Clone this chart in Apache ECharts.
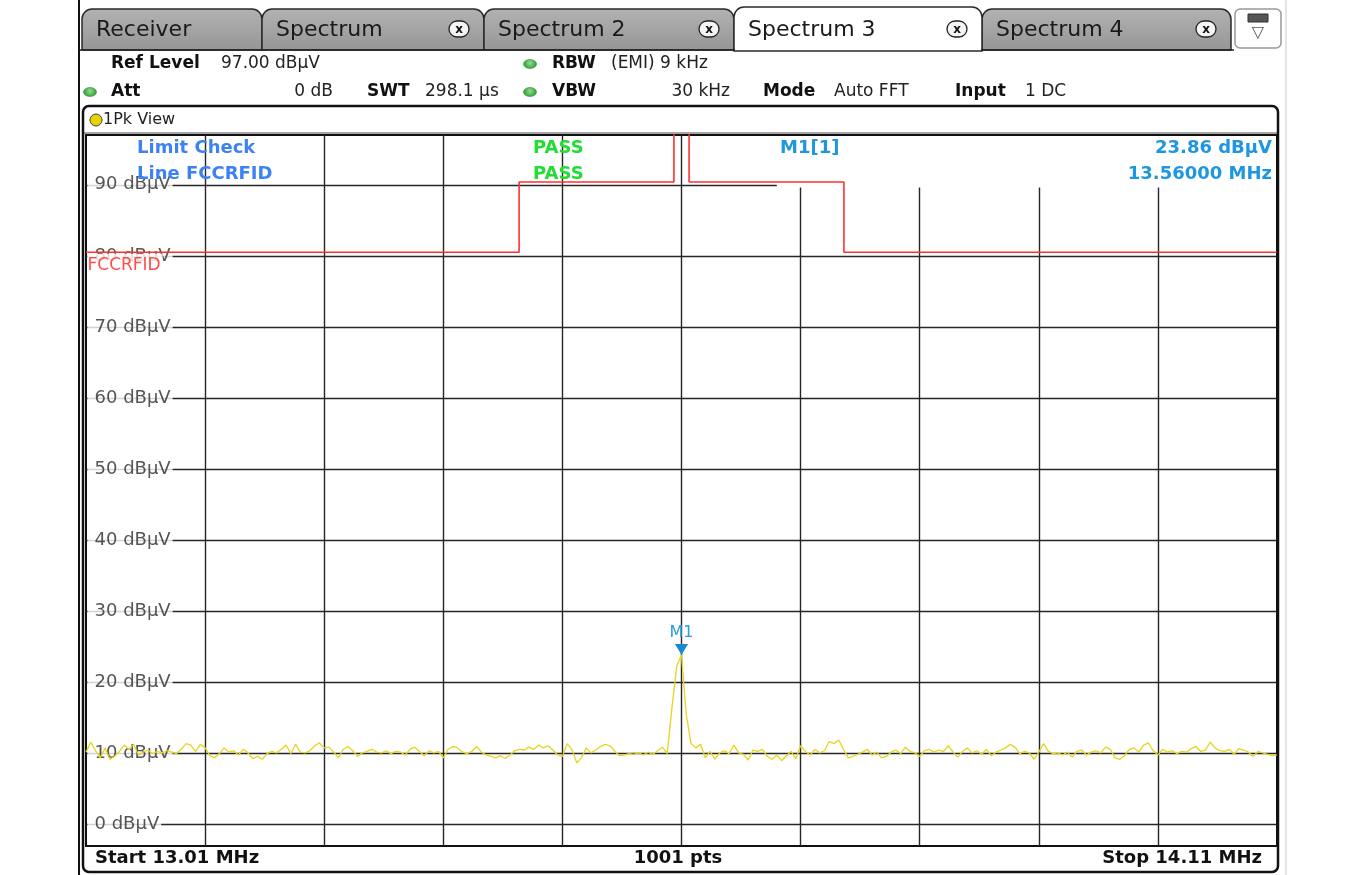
<!DOCTYPE html>
<html>
<head>
<meta charset="utf-8">
<script src="https://cdn.jsdelivr.net/npm/echarts@6/dist/echarts.min.js"></script>
<style>
  html, body { margin: 0; padding: 0; background: #fff; }
  #main { width: 1360px; height: 875px; }
</style>
</head>
<body>
<div id="main"></div>
<script>
// sweep settings
var sweepStart = 13.01;
var sweepStop = 14.11;
var levelMin = -3;
var levelMax = 97;

// grid ticks
var freqTicks = [13.12, 13.23, 13.34, 13.45, 13.56, 13.67, 13.78, 13.89, 14.00];
var levelTicks = [0, 10, 20, 30, 40, 50, 60, 70, 80, 90];

// FCCRFID limit line (dBuV)
var limitFreq = [13.01, 13.41, 13.41, 13.553, 13.553, 13.567, 13.567, 13.71, 13.71, 14.11];
var limitLevel = [80.5, 80.5, 90.4, 90.4, 124, 124, 90.4, 90.4, 80.5, 80.5];

// 1Pk trace (251 pts across the span)
var traceLevel = [
  10.2, 11.6, 10.4, 9.4, 10.8, 9.2, 9.6, 10.3, 11.2, 10.6, 11.3, 9.8, 10.2, 10.5, 10.0, 10.3, 10.1, 10.4, 10.2, 10.0, 10.6, 11.4, 11.2, 10.3, 11.3,
  10.8, 9.7, 9.4, 10.0, 10.8, 10.2, 10.4, 9.8, 10.6, 10.1, 9.3, 9.6, 9.2, 10.0, 10.3, 10.1, 10.6, 11.2, 10.0, 11.3, 10.2, 10.1, 10.4, 11.1, 11.5,
  10.8, 10.9, 10.2, 9.4, 10.6, 11.0, 10.4, 9.6, 10.1, 10.3, 10.6, 10.2, 10.1, 10.4, 10.0, 10.3, 10.2, 9.8, 10.6, 10.9, 10.3, 9.7, 10.4, 10.1, 10.3,
  9.4, 10.6, 11.0, 10.8, 10.2, 10.0, 10.3, 11.0, 10.2, 9.8, 9.6, 9.4, 9.7, 9.3, 9.8, 10.4, 10.6, 10.5, 10.9, 10.6, 11.2, 10.8, 11.1, 10.5, 9.8,
  9.6, 11.4, 10.6, 8.7, 9.4, 10.8, 10.1, 10.5, 11.0, 11.3, 11.1, 10.3, 9.7, 9.8, 10.0, 9.9, 10.1, 9.8, 10.2, 9.9, 10.4, 10.9, 10.0, 16.5, 22.3,
  23.86, 15.5, 11.4, 10.8, 11.3, 9.4, 10.3, 9.2, 10.1, 10.4, 10.0, 11.2, 10.1, 9.9, 9.1, 10.5, 10.3, 10.6, 9.6, 9.2, 9.8, 9.0, 9.7, 10.3, 9.3,
  11.1, 10.3, 9.8, 10.6, 10.1, 10.4, 11.7, 11.4, 11.9, 10.6, 9.4, 9.6, 9.9, 10.2, 10.6, 9.8, 10.2, 9.4, 9.6, 10.2, 10.5, 10.0, 10.9, 10.3, 10.1,
  9.6, 10.4, 10.6, 10.2, 10.5, 10.3, 11.1, 10.2, 9.5, 10.3, 10.8, 10.1, 10.4, 9.9, 10.6, 9.7, 10.2, 10.5, 10.8, 11.3, 10.9, 10.0, 10.3, 10.1, 9.2,
  10.2, 11.4, 10.3, 10.0, 10.1, 9.8, 10.2, 9.5, 10.3, 10.5, 9.8, 10.2, 10.4, 10.1, 10.9, 10.6, 9.4, 9.2, 9.7, 10.6, 10.8, 10.2, 11.2, 11.5, 10.4,
  9.8, 10.6, 10.2, 10.4, 10.0, 10.3, 10.2, 10.7, 11.0, 10.3, 10.5, 11.6, 10.8, 10.4, 10.3, 10.6, 9.9, 10.7, 10.5, 10.2, 9.6, 10.3, 10.1, 9.9, 9.7, 9.8
];

// marker M1
var markerFreq = 13.56;
var markerLevel = 23.86;

// area hidden behind the marker readout (top right)
var readoutFreq = 13.648;
var readoutLevel = 89.6;

var FONT = '"DejaVu Sans", Verdana, sans-serif';

var chart = echarts.init(document.getElementById('main'));

function pairs(xs, ys) {
  var out = [];
  for (var i = 0; i < xs.length; i++) out.push([xs[i], ys[i]]);
  return out;
}

// frequency of each trace point: linear sweep
var traceFreq = [];
for (var i = 0; i < traceLevel.length; i++) {
  traceFreq.push(+(sweepStart + i * (sweepStop - sweepStart) / (traceLevel.length - 1)).toFixed(5));
}

// grid lines as marklines
var gridLines = [];
levelTicks.forEach(function (v) {
  var end = v === 90 ? readoutFreq : sweepStop;
  gridLines.push([{ coord: [sweepStart, v] }, { coord: [end, v] }]);
});
freqTicks.forEach(function (f) {
  var top = f > readoutFreq ? readoutLevel : levelMax;
  gridLines.push([{ coord: [f, levelMin] }, { coord: [f, top] }]);
});

function txt(x, y, s, font, color, align, z) {
  return {
    type: 'text', x: x, y: y, z: z || 10, silent: true,
    style: { text: s, font: font, fill: color || '#111', textAlign: align || 'left', textVerticalAlign: 'middle' }
  };
}
function dot(x, y) {
  return {
    type: 'ellipse', z: 10, silent: true,
    shape: { cx: x, cy: y, rx: 6.5, ry: 4.5 },
    style: {
      fill: new echarts.graphic.RadialGradient(0.5, 0.4, 0.7, [
        { offset: 0, color: '#8fe08f' }, { offset: 1, color: '#2f9a2f' }
      ]),
      stroke: '#3a8a3a', lineWidth: 0.5
    }
  };
}
function tab(x, w, label, active, closable) {
  var els = [];
  els.push({
    type: 'rect', z: active ? 6 : 5, silent: true,
    shape: { x: x, y: active ? 7 : 9, width: w, height: active ? 44 : 41, r: [10, 10, 0, 0] },
    style: {
      fill: active ? '#ffffff' : new echarts.graphic.LinearGradient(0, 0, 0, 1, [
        { offset: 0, color: '#b2b2b2' }, { offset: 1, color: '#969696' }
      ]),
      stroke: '#2a2a2a', lineWidth: 1.5
    }
  });
  els.push(txt(x + 14, 30, label, '22px ' + FONT, '#1a1a1a', 'left', 8));
  if (closable) {
    var cx = x + w - 25;
    els.push({
      type: 'rect', z: 8, silent: true,
      shape: { x: cx - 10, y: 21, width: 20, height: 16, r: 8 },
      style: { fill: '#f4f4f4', stroke: '#222', lineWidth: 1.3 }
    });
    els.push(txt(cx, 29.5, 'x', 'bold 12px ' + FONT, '#111', 'center', 9));
  }
  return els;
}

var graphics = [];
// screenshot edges
graphics.push({ type: 'line', z: 1, silent: true, shape: { x1: 79, y1: 0, x2: 79, y2: 875 }, style: { stroke: '#111', lineWidth: 2 } });
graphics.push({ type: 'line', z: 1, silent: true, shape: { x1: 1286, y1: 0, x2: 1286, y2: 875 }, style: { stroke: '#c8c8c8', lineWidth: 1 } });
// tabs
graphics = graphics.concat(
  tab(82, 180, 'Receiver', false, false),
  tab(262, 222, 'Spectrum', false, true),
  tab(484, 250, 'Spectrum 2', false, true),
  tab(982, 249, 'Spectrum 4', false, true),
  tab(734, 248, 'Spectrum 3', true, true)
);
graphics.push({ type: 'line', z: 7, silent: true, shape: { x1: 79, y1: 50, x2: 735, y2: 50 }, style: { stroke: '#222', lineWidth: 1.5 } });
graphics.push({ type: 'line', z: 7, silent: true, shape: { x1: 981, y1: 50, x2: 1234, y2: 50 }, style: { stroke: '#222', lineWidth: 1.5 } });
graphics.push({
  type: 'rect', z: 5, silent: true, shape: { x: 1235, y: 9, width: 46, height: 39, r: 5 },
  style: { fill: '#fff', stroke: '#999', lineWidth: 1.5 }
});
graphics.push({ type: 'rect', z: 6, silent: true, shape: { x: 1248, y: 14, width: 20, height: 8 }, style: { fill: '#555', stroke: '#333' } });
graphics.push(txt(1258, 33, '\u25BD', '16px ' + FONT, '#555', 'center'));

// header settings
var hdB = 'bold 17px ' + FONT, hdN = '17px ' + FONT;
graphics.push(txt(111, 64, 'Ref Level', hdB));
graphics.push(txt(221, 64, '97.00 dB\u03BCV', hdN, '#222'));
graphics.push(dot(530, 64));
graphics.push(txt(552, 64, 'RBW', hdB));
graphics.push(txt(611, 64, '(EMI) 9 kHz', hdN, '#222'));
graphics.push(dot(90, 92));
graphics.push(txt(111, 92, 'Att', hdB));
graphics.push(txt(333, 92, '0 dB', hdN, '#222', 'right'));
graphics.push(txt(367, 92, 'SWT', hdB));
graphics.push(txt(425, 92, '298.1 \u03BCs', hdN, '#222'));
graphics.push(dot(530, 92));
graphics.push(txt(552, 92, 'VBW', hdB));
graphics.push(txt(730, 92, '30 kHz', hdN, '#222', 'right'));
graphics.push(txt(763, 92, 'Mode', hdB));
graphics.push(txt(834, 92, 'Auto FFT', hdN, '#222'));
graphics.push(txt(955, 92, 'Input', hdB));
graphics.push(txt(1025, 92, '1 DC', hdN, '#222'));

// window frame
graphics.push({
  type: 'rect', z: 20, silent: true, shape: { x: 83, y: 106, width: 1195, height: 766, r: 6 },
  style: { fill: 'none', stroke: '#111', lineWidth: 2.5 }
});
graphics.push({ type: 'line', z: 3, silent: true, shape: { x1: 84, y1: 133, x2: 1277, y2: 133 }, style: { stroke: '#888', lineWidth: 1.5 } });
graphics.push({
  type: 'circle', z: 10, silent: true, shape: { cx: 96, cy: 120, r: 6 },
  style: { fill: '#e6d400', stroke: '#444', lineWidth: 1 }
});
graphics.push(txt(103, 120, '1Pk View', '16px ' + FONT, '#222'));

// limit check / marker readout
var anB = 'bold 18px ' + FONT;
graphics.push(txt(137, 148, 'Limit Check', anB, '#3c82f5', 'left', 100));
graphics.push(txt(137, 174, 'Line FCCRFID', anB, '#3c82f5', 'left', 100));
graphics.push(txt(533, 148, 'PASS', anB, '#22dd33', 'left', 100));
graphics.push(txt(533, 174, 'PASS', anB, '#22dd33', 'left', 100));
graphics.push(txt(780, 148, 'M1[1]', anB, '#1e96e1', 'left', 100));
graphics.push(txt(1272, 148, markerLevel.toFixed(2) + ' dB\u03BCV', anB, '#1e96e1', 'right', 100));
graphics.push(txt(1272, 174, markerFreq.toFixed(5) + ' MHz', anB, '#1e96e1', 'right', 100));

// status bar
graphics.push(txt(95, 858, 'Start ' + sweepStart.toFixed(2) + ' MHz', anB, '#111'));
graphics.push(txt(678, 858, '1001 pts', anB, '#111', 'center'));
graphics.push(txt(1262, 858, 'Stop ' + sweepStop.toFixed(2) + ' MHz', anB, '#111', 'right'));

var option = {
  animation: false,
  backgroundColor: '#fff',
  grid: {
    left: 86, right: 83, top: 135, bottom: 29,
    show: true, borderColor: '#111', borderWidth: 2, backgroundColor: 'transparent'
  },
  xAxis: {
    type: 'value', min: sweepStart, max: sweepStop,
    axisLine: { show: false }, axisTick: { show: false }, axisLabel: { show: false }, splitLine: { show: false }
  },
  yAxis: {
    type: 'value', min: levelMin, max: levelMax,
    axisLine: { show: false }, axisTick: { show: false }, axisLabel: { show: false }, splitLine: { show: false }
  },
  graphic: graphics,
  series: [
    {
      name: 'grid', type: 'line', data: [], z: 1, silent: true,
      markLine: {
        z: 1, silent: true, symbol: ['none', 'none'], animation: false,
        label: { show: false },
        lineStyle: { color: '#262626', width: 1.4, type: 'solid' },
        emphasis: { disabled: true },
        data: gridLines
      }
    },
    {
      name: 'levelLabels', type: 'scatter', z: 2, silent: true,
      symbolSize: 1, itemStyle: { color: 'rgba(0,0,0,0)' },
      data: levelTicks.map(function (v) { return [sweepStart, v]; }),
      label: {
        show: true, position: 'right', distance: 1,
        formatter: function (p) { return p.value[1] + ' dB\u03BCV'; },
        color: '#2a2a2a', fontFamily: FONT, fontSize: 18,
        backgroundColor: '#fff', padding: [1, 2, 1, 7]
      }
    },
    {
      name: 'limitLabel', type: 'scatter', z: 3, silent: true,
      symbolSize: 1, itemStyle: { color: 'rgba(0,0,0,0)' },
      data: [[limitFreq[0], limitLevel[0]]],
      label: {
        show: true, position: 'right', distance: 1, offset: [0, 13],
        formatter: 'FCCRFID',
        color: '#ff1f1f', fontFamily: FONT, fontSize: 17,
        backgroundColor: '#fff', padding: [4, 2, 2, 0]
      }
    },
    {
      name: 'FCCRFID', type: 'line', z: 4, silent: true,
      data: pairs(limitFreq, limitLevel),
      symbol: 'none', clip: true,
      lineStyle: { color: '#ff3030', width: 1.6 }
    },
    {
      name: '1Pk', type: 'line', z: 5, silent: true,
      data: pairs(traceFreq, traceLevel),
      symbol: 'none', clip: true,
      lineStyle: { color: '#e6d51c', width: 1.3 },
      markPoint: {
        silent: true, animation: false,
        symbol: 'triangle', symbolRotate: 180, symbolSize: [13, 11], symbolOffset: [0, '-50%'],
        itemStyle: { color: '#168ad6' },
        label: {
          show: true, position: 'top', distance: 3, formatter: 'M1',
          color: '#2a9be0', fontFamily: FONT, fontSize: 16
        },
        data: [{ coord: [markerFreq, markerLevel] }]
      }
    }
  ]
};

chart.setOption(option);
</script>
</body>
</html>
